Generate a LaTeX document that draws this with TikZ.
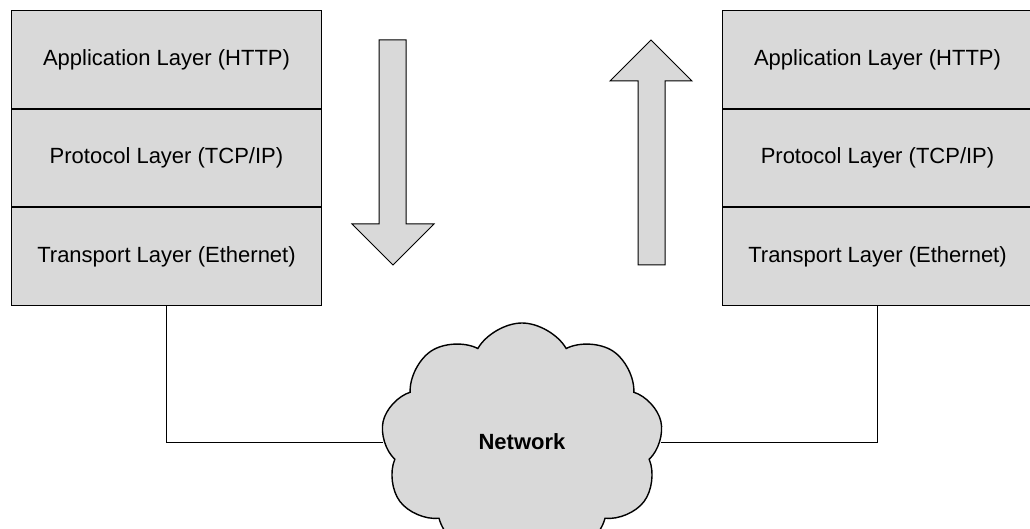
\documentclass[tikz,border=0pt]{standalone}
\usepackage{fontspec}
\setmainfont{Liberation Sans}
\usetikzlibrary{positioning,shapes.symbols}
\definecolor{boxgray}{RGB}{217,217,217}
\tikzset{
  layer/.style={draw,fill=boxgray,line width=1pt,minimum width=310pt,
    minimum height=97.67pt,inner sep=0pt,font=\fontsize{22}{26}\selectfont},
  flow/.style={draw,fill=boxgray,line width=1pt,line join=miter},
  wire/.style={line width=1pt}
}
\newcommand{\layerstack}[2]{%
  \node[layer,anchor=north west] (#1app) at (#2,10) {Application Layer (HTTP)};
  \node[layer,below=0pt of #1app] (#1prot) {Protocol Layer (TCP/IP)};
  \node[layer,below=0pt of #1prot] (#1trans) {Transport Layer (Ethernet)};}

\begin{document}
\begin{tikzpicture}[x=1pt,y=-1pt]
  \useasboundingbox (0,0) rectangle (1030,529);

  \layerstack{l}{11}
  \layerstack{r}{722}

  \draw[flow] (379,40) -- (406,40) -- (406,224) -- (434,224) -- (393,265)
    -- (352,224) -- (379,224) -- cycle;
  \draw[flow] (638,265) -- (665,265) -- (665,81) -- (692,81) -- (651,40)
    -- (610,81) -- (638,81) -- cycle;

  \node[cloud,cloud puffs=9,cloud puff arc=120,cloud ignores aspect,
    draw,fill=boxgray,line width=1.4pt,minimum width=282pt,minimum height=238pt,
    inner sep=0pt,font=\fontsize{22}{24}\selectfont\bfseries] (net) at (522,442) {Network};

  \draw[wire] (ltrans.south) |- (net);
  \draw[wire] (rtrans.south) |- (net);
\end{tikzpicture}
\end{document}
